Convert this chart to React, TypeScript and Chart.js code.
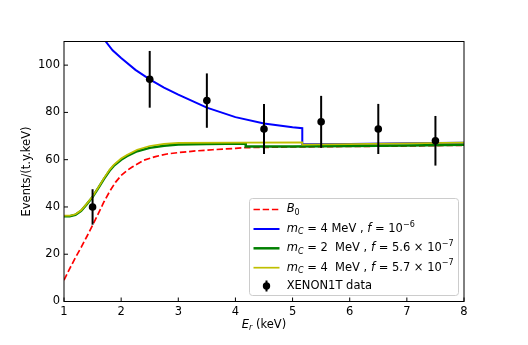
import React, { useEffect, useRef } from "react";
import { Chart, registerables } from "chart.js";
Chart.register(...registerables);

// ---------- data ----------
const xTicks = [1, 2, 3, 4, 5, 6, 7, 8];
const yTicks = [0, 20, 40, 60, 80, 100];

const dataE = [1.5, 2.5, 3.5, 4.5, 5.5, 6.5, 7.5];
const dataY = [40, 94, 85, 73, 76, 73, 68];
const dataErr = [7.5, 12, 11.5, 10.6, 11, 10.6, 10.5];

const b0E = [1.0, 1.1, 1.2, 1.3, 1.4, 1.5, 1.6, 1.7, 1.8, 1.9, 2.0, 2.1, 2.2, 2.4, 2.6, 2.8, 3.0, 3.3, 3.6, 4.0, 4.18, 5.0, 6.0, 7.0, 8.0];
const b0Y = [9.0, 13.9, 18.6, 22.9, 27.5, 32.3, 37.2, 42.2, 46.6, 50.4, 53.3, 55.4, 57.0, 59.8, 61.3, 62.4, 63.0, 63.7, 64.2, 64.8, 65.1, 65.4, 65.6, 65.8, 66.1];

const blueE = [1.6, 1.73, 1.85, 2.0, 2.25, 2.5, 2.75, 3.0, 3.5, 4.0, 4.5, 5.0, 5.17, 5.17, 6.0, 7.0, 8.0];
const blueY = [114.5, 110, 106.3, 103, 98, 94, 90.5, 87.5, 82, 78, 75.3, 73.7, 73.3, 66.5, 66.6, 66.9, 67.2];

const greenE = [1.0, 1.1, 1.2, 1.3, 1.4, 1.5, 1.6, 1.7, 1.8, 1.87, 2.0, 2.1, 2.28, 2.5, 2.75, 3.0, 3.5, 4.18, 4.18, 5.0, 6.0, 7.0, 8.0];
const greenY = [36.1, 36.1, 36.7, 38.4, 41.2, 44.2, 48.0, 51.9, 55.4, 57.4, 60.0, 61.5, 63.6, 65.0, 65.9, 66.4, 66.6, 66.8, 65.6, 65.6, 65.8, 66.0, 66.3];

const yellowE = [1.0, 1.1, 1.2, 1.3, 1.4, 1.5, 1.6, 1.7, 1.8, 1.87, 2.0, 2.1, 2.28, 2.5, 2.75, 3.0, 4.0, 5.17, 5.17, 6.0, 7.0, 8.0];
const yellowY = [36.3, 36.3, 36.9, 38.6, 41.4, 44.4, 48.2, 52.2, 55.8, 57.8, 60.5, 62.0, 64.2, 65.8, 66.7, 67.1, 67.2, 67.3, 66.4, 66.6, 66.9, 67.2];

type Seg = { t: string; it?: boolean; sub?: boolean; sup?: boolean };
const legendLabels: Seg[][] = [
  [{ t: "B", it: true }, { t: "0", sub: true }],
  [{ t: "m", it: true }, { t: "C", it: true, sub: true }, { t: " = 4 MeV , " }, { t: "f", it: true }, { t: " = 10" }, { t: "\u22126", sup: true }],
  [{ t: "m", it: true }, { t: "C", it: true, sub: true }, { t: " = 2  MeV , " }, { t: "f", it: true }, { t: " = 5.6 \u00d7 10" }, { t: "\u22127", sup: true }],
  [{ t: "m", it: true }, { t: "C", it: true, sub: true }, { t: " = 4  MeV , " }, { t: "f", it: true }, { t: " = 5.7 \u00d7 10" }, { t: "\u22127", sup: true }],
  [{ t: "XENON1T data" }],
];
const xLabel: Seg[] = [{ t: "E", it: true }, { t: "r", it: true, sub: true }, { t: " (keV)" }];
const yLabel = "Events/(t.y.keV)";

const FONT = "'DejaVu Sans'";
const FS = 11.5;

const zip = (xs: number[], ys: number[]) => xs.map((x, i) => ({ x, y: ys[i] }));

function segFont(s: Seg, size: number) {
  const sz = s.sub || s.sup ? size * 0.7 : size;
  return `${s.it ? "italic " : ""}${sz}px ${FONT}`;
}
function richWidth(ctx: CanvasRenderingContext2D, segs: Seg[], size: number) {
  let w = 0;
  for (const s of segs) {
    ctx.font = segFont(s, size);
    w += ctx.measureText(s.t).width;
  }
  return w;
}
function drawRich(ctx: CanvasRenderingContext2D, x: number, y: number, segs: Seg[], size: number) {
  ctx.textBaseline = "middle";
  ctx.textAlign = "left";
  let cx = x;
  for (const s of segs) {
    ctx.font = segFont(s, size);
    const dy = s.sub ? size * 0.28 : s.sup ? -size * 0.38 : 0;
    ctx.fillText(s.t, cx, y + dy);
    cx += ctx.measureText(s.t).width;
  }
}

const decorPlugin = {
  id: "decor",
  afterDatasetsDraw(chart: any) {
    const ctx: CanvasRenderingContext2D = chart.ctx;
    const xs = chart.scales.x;
    const ys = chart.scales.y;
    ctx.save();
    ctx.strokeStyle = "#000";
    ctx.lineWidth = 2;
    dataE.forEach((e, i) => {
      const px = xs.getPixelForValue(e);
      ctx.beginPath();
      ctx.moveTo(px, ys.getPixelForValue(dataY[i] - dataErr[i]));
      ctx.lineTo(px, ys.getPixelForValue(dataY[i] + dataErr[i]));
      ctx.stroke();
    });
    ctx.restore();
  },
  afterDraw(chart: any) {
    const ctx: CanvasRenderingContext2D = chart.ctx;
    const a = chart.chartArea;
    const xs = chart.scales.x;
    const ys = chart.scales.y;
    ctx.save();
    // frame
    ctx.strokeStyle = "#000";
    ctx.lineWidth = 1;
    ctx.strokeRect(a.left, a.top, a.right - a.left, a.bottom - a.top);
    // inward ticks
    ctx.beginPath();
    xTicks.forEach((v) => {
      const px = xs.getPixelForValue(v);
      ctx.moveTo(px, a.bottom);
      ctx.lineTo(px, a.bottom - 4);
    });
    yTicks.forEach((v) => {
      const py = ys.getPixelForValue(v);
      ctx.moveTo(a.left, py);
      ctx.lineTo(a.left + 4, py);
    });
    ctx.stroke();

    // axis labels
    ctx.fillStyle = "#000";
    const w = richWidth(ctx, xLabel, FS);
    drawRich(ctx, (a.left + a.right) / 2 - w / 2, 325, xLabel, FS);
    ctx.save();
    ctx.translate(27, (a.top + a.bottom) / 2);
    ctx.rotate(-Math.PI / 2);
    ctx.font = `${FS}px ${FONT}`;
    ctx.textAlign = "center";
    ctx.textBaseline = "middle";
    ctx.fillText(yLabel, 0, 0);
    ctx.restore();

    // legend
    const lx = 249.5, ly = 198.5, lw = 209, lh = 97;
    ctx.beginPath();
    const r = 3;
    ctx.moveTo(lx + r, ly);
    ctx.arcTo(lx + lw, ly, lx + lw, ly + lh, r);
    ctx.arcTo(lx + lw, ly + lh, lx, ly + lh, r);
    ctx.arcTo(lx, ly + lh, lx, ly, r);
    ctx.arcTo(lx, ly, lx + lw, ly, r);
    ctx.closePath();
    ctx.fillStyle = "rgba(255,255,255,0.8)";
    ctx.fill();
    ctx.strokeStyle = "#cccccc";
    ctx.lineWidth = 1;
    ctx.stroke();

    const rows = [209.5, 229, 248.3, 267.7, 286];
    const handles = chart.data.datasets;
    [0, 1, 2, 3, 4].forEach((di, i) => {
      const ds = handles[di];
      const y = rows[i];
      if (i < 4) {
        ctx.save();
        ctx.strokeStyle = ds.borderColor;
        ctx.lineWidth = ds.borderWidth;
        ctx.setLineDash(ds.borderDash || []);
        ctx.beginPath();
        ctx.moveTo(253.5, y);
        ctx.lineTo(279.5, y);
        ctx.stroke();
        ctx.restore();
      } else {
        ctx.strokeStyle = "#000";
        ctx.lineWidth = 2;
        ctx.beginPath();
        ctx.moveTo(266.5, y - 5.5);
        ctx.lineTo(266.5, y + 5.5);
        ctx.stroke();
        ctx.fillStyle = "#000";
        ctx.beginPath();
        ctx.arc(266.5, y, 3.7, 0, Math.PI * 2);
        ctx.fill();
      }
      ctx.fillStyle = "#000";
      drawRich(ctx, 286.7, y, legendLabels[i], FS);
    });
    ctx.restore();
  },
};

export default function App() {
  const ref = useRef<HTMLCanvasElement>(null);
  useEffect(() => {
    document.body.style.margin = "0";
    const tickFont = { family: FONT, size: FS };
    const chart = new Chart(ref.current!, {
      type: "line",
      data: {
        datasets: [
          { label: "B0", data: zip(b0E, b0Y), borderColor: "#ff0000", borderWidth: 1.7, borderDash: [6.4, 2.8], pointRadius: 0, order: 4, clip: 0 } as any,
          { label: "blue", data: zip(blueE, blueY), borderColor: "#0000ff", borderWidth: 2, pointRadius: 0, order: 3, clip: 0 },
          { label: "green", data: zip(greenE, greenY), borderColor: "#008000", borderWidth: 2.5, pointRadius: 0, order: 2, clip: 0 },
          { label: "yellow", data: zip(yellowE, yellowY), borderColor: "#bfbf00", borderWidth: 1.7, pointRadius: 0, order: 1, clip: 0 },
          { label: "XENON1T data", data: zip(dataE, dataY), showLine: false, pointRadius: 3.8, pointBackgroundColor: "#000", pointBorderColor: "#000", pointBorderWidth: 0, borderColor: "#000", order: 0, clip: 0 },
        ],
      },
      options: {
        responsive: false,
        animation: false,
        devicePixelRatio: 1,
        layout: { padding: { left: 0, right: 64, top: 41.5, bottom: 0 } },
        plugins: { legend: { display: false }, tooltip: { enabled: false } },
        elements: { line: { tension: 0 } },
        scales: {
          x: {
            type: "linear",
            min: 1,
            max: 8,
            afterFit: (s: any) => { s.height = 43.5; },
            afterBuildTicks: (s: any) => { s.ticks = xTicks.map((v) => ({ value: v })); },
            grid: { display: false, drawTicks: false },
            border: { display: false },
            ticks: { font: tickFont, color: "#000", padding: 4, maxRotation: 0, autoSkip: false },
          },
          y: {
            type: "linear",
            min: 0,
            max: 110,
            afterFit: (s: any) => { s.width = 64; },
            afterBuildTicks: (s: any) => { s.ticks = yTicks.map((v) => ({ value: v })); },
            grid: { display: false, drawTicks: false },
            border: { display: false },
            ticks: { font: tickFont, color: "#000", padding: 4, autoSkip: false },
          },
        },
      },
      plugins: [decorPlugin],
    } as any);
    return () => chart.destroy();
  }, []);
  return <canvas ref={ref} width={528} height={345} style={{ display: "block" }} />;
}
